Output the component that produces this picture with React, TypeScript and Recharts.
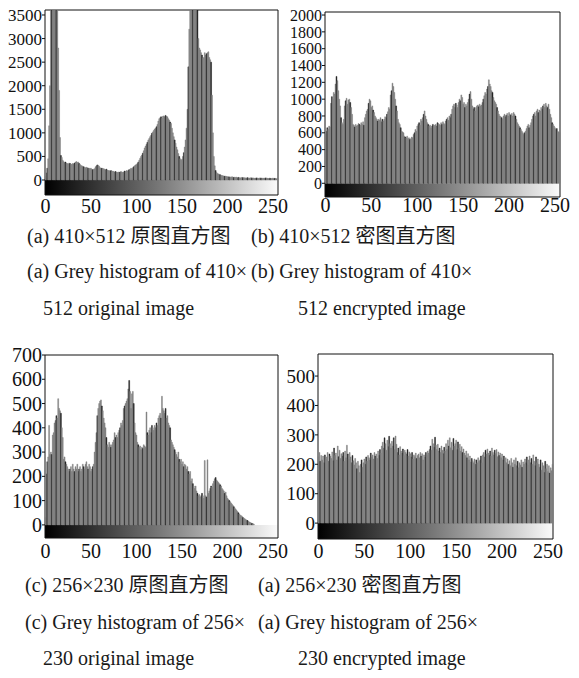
import React from "react"
import { BarChart, Bar, Cell, XAxis, YAxis, ReferenceArea } from "recharts"

// grey levels 0..255 (categories)
const LEVELS = Array.from({ length: 256 }, (_, i) => i)

// (a) 410x512 original image, counts per grey level (peaks run off the top)
const origA = [
  80, 150, 250, 450, 1150, 2000, 3800, 5000, 5000, 5000, 5000, 5000, 5000, 4600, 2800, 1900,
  900, 520, 480, 420, 390, 370, 380, 360, 350, 340, 360, 350, 340, 330, 350, 340,
  360, 380, 390, 370, 380, 350, 330, 310, 300, 290, 280, 270, 260, 270, 260, 250,
  250, 240, 250, 230, 220, 230, 240, 280, 300, 320, 310, 290, 260, 250, 250, 240,
  240, 230, 220, 230, 210, 200, 200, 190, 200, 180, 190, 180, 170, 180, 170, 160,
  170, 160, 170, 180, 170, 160, 170, 190, 180, 200, 190, 210, 220, 230, 250, 240,
  260, 280, 300, 320, 330, 350, 380, 420, 460, 500, 530, 570, 620, 680, 720, 760,
  800, 850, 880, 920, 950, 990, 1020, 1050, 1080, 1100, 1130, 1180, 1250, 1300, 1320, 1340,
  1310, 1350, 1360, 1340, 1370, 1350, 1340, 1300, 1270, 1230, 1200, 1100, 1000, 920, 850, 780,
  700, 640, 560, 500, 450, 420, 440, 500, 580, 700, 850, 1100, 1500, 2400, 3200, 4000,
  5000, 5000, 5000, 5000, 5000, 5000, 5000, 5000, 3000, 2800, 2760, 2700, 2650, 2580, 2600, 2700,
  2650, 2680, 2700, 2720, 2600, 2550, 2500, 1800, 1000, 500, 300, 200, 160, 140, 130, 120,
  110, 100, 95, 90, 85, 80, 80, 75, 70, 70, 65, 65, 60, 70, 60, 55,
  60, 55, 60, 50, 55, 50, 45, 50, 55, 50, 45, 50, 40, 45, 50, 45,
  40, 45, 50, 40, 45, 40, 35, 40, 45, 40, 35, 40, 45, 40, 35, 40,
  35, 40, 45, 40, 35, 30, 40, 35, 30, 35, 40, 30, 35, 30, 25, 40,
]

// (b) 410x512 encrypted image
const encB = [
  590, 620, 660, 640, 680, 670, 950, 1030, 1000, 1080, 1060, 1180, 1270, 1220, 1100, 1000,
  920, 780, 720, 700, 760, 920, 980, 1010, 940, 990, 1000, 960, 900, 820, 700, 690,
  670, 700, 680, 690, 710, 700, 690, 720, 700, 730, 690, 780, 820, 860, 880, 950,
  1000, 980, 900, 920, 870, 840, 800, 780, 760, 740, 760, 750, 780, 730, 760, 740,
  760, 790, 780, 820, 850, 900, 880, 1050, 1100, 1190, 1150, 1080, 1000, 920, 860, 760,
  720, 700, 660, 620, 610, 600, 560, 550, 540, 560, 530, 540, 520, 530, 550, 540,
  580, 600, 640, 620, 680, 700, 720, 690, 760, 740, 780, 820, 860, 800, 760, 720,
  700, 680, 690, 660, 680, 700, 670, 690, 700, 680, 720, 710, 700, 690, 720, 700,
  730, 710, 700, 740, 760, 780, 750, 800, 780, 820, 880, 920, 940, 900, 950, 930,
  900, 960, 1000, 980, 1050, 1020, 940, 960, 900, 940, 920, 960, 1000, 1060, 1090, 1000,
  920, 880, 900, 860, 900, 920, 930, 910, 940, 920, 930, 960, 1000, 1040, 1080, 1060,
  1120, 1150, 1230, 1180, 1150, 1100, 1080, 1020, 980, 960, 940, 900, 860, 820, 800, 790,
  780, 760, 800, 820, 790, 810, 830, 800, 840, 820, 810, 830, 800, 840, 820, 800,
  760, 720, 700, 680, 660, 640, 620, 600, 580, 600, 620, 650, 680, 700, 660, 690,
  720, 760, 800, 820, 840, 800, 860, 880, 840, 870, 860, 900, 880, 920, 940, 900,
  950, 920, 900, 940, 880, 820, 780, 720, 700, 680, 660, 640, 650, 620, 610, 600,
]

// (c) 256x230 original image
const origC = [
  30, 210, 260, 280, 410, 290, 300, 290, 370, 380, 420, 430, 450, 440, 520, 480,
  470, 460, 400, 360, 270, 280, 260, 250, 240, 230, 220, 230, 240, 220, 250, 230,
  220, 240, 230, 250, 220, 230, 240, 220, 230, 250, 240, 230, 250, 260, 240, 230,
  250, 240, 220, 230, 240, 250, 300, 340, 380, 450, 480, 500, 510, 515, 490, 470,
  440, 420, 400, 360, 330, 320, 340, 330, 320, 330, 340, 350, 380, 360, 370, 360,
  380, 390, 400, 420, 410, 430, 480, 490, 500, 510, 520, 560, 595, 550, 480, 540,
  550, 500, 420, 380, 370, 340, 330, 320, 325, 310, 320, 315, 330, 325, 320, 465,
  380, 370, 390, 400, 380, 410, 400, 390, 410, 400, 420, 410, 440, 450, 460, 440,
  530, 480, 470, 460, 480, 440, 450, 420, 410, 400, 350, 340, 330, 320, 310, 300,
  290, 280, 300, 270, 260, 270, 250, 260, 240, 250, 245, 230, 240, 220, 210, 220,
  180, 190, 170, 160, 150, 160, 140, 130, 120, 125, 115, 120, 130, 120, 110, 265,
  120, 115, 268, 130, 140, 150, 160, 155, 170, 180, 190, 195, 185, 180, 175, 170,
  165, 160, 150, 145, 140, 130, 135, 120, 110, 105, 100, 95, 90, 85, 80, 75,
  70, 65, 60, 55, 50, 45, 40, 38, 35, 30, 28, 25, 22, 20, 18, 15,
  12, 10, 8, 6, 5, 3, 0, 0, 0, 0, 0, 0, 0, 0, 0, 0,
  0, 0, 0, 0, 0, 0, 0, 0, 0, 0, 0, 0, 0, 0, 0, 0,
]

// (d) 256x230 encrypted image
const encD = [
  225, 240, 210, 230, 215, 228, 205, 232, 218, 225, 240, 210, 235, 228, 220, 242,
  212, 255, 230, 238, 215, 262, 226, 248, 220, 236, 228, 240, 210, 245, 222, 265,
  235, 218, 240, 225, 205, 230, 212, 198, 220, 205, 185, 210, 195, 172, 200, 215,
  190, 205, 218, 200, 225, 210, 230, 222, 215, 238, 225, 232, 218, 240, 228, 235,
  220, 245, 230, 250, 238, 262, 275, 255, 290, 270, 248, 282, 260, 295, 270, 255,
  278, 262, 290, 250, 296, 268, 240, 255, 232, 260, 245, 238, 252, 230, 248, 240,
  235, 250, 228, 242, 236, 225, 240, 218, 232, 226, 238, 220, 230, 235, 222, 240,
  228, 236, 215, 232, 225, 240, 230, 245, 238, 250, 262, 248, 285, 270, 258, 292,
  265, 250, 268, 245, 255, 240, 262, 248, 236, 258, 245, 270, 250, 282, 262, 290,
  256, 275, 248, 288, 262, 270, 282, 250, 276, 255, 268, 245, 260, 240, 252, 238,
  230, 245, 222, 236, 215, 228, 208, 220, 212, 205, 218, 200, 215, 205, 222, 210,
  215, 228, 205, 232, 240, 225, 248, 235, 252, 238, 230, 245, 228, 255, 240, 232,
  248, 236, 250, 226, 242, 230, 238, 222, 235, 215, 228, 210, 222, 205, 218, 200,
  212, 195, 220, 205, 190, 215, 200, 222, 195, 210, 188, 205, 198, 215, 190, 208,
  200, 218, 205, 225, 198, 215, 228, 205, 220, 200, 232, 210, 195, 225, 205, 218,
  200, 190, 215, 180, 205, 195, 172, 210, 185, 200, 175, 195, 170, 188, 178, 200,
]

const ticksA = [0, 500, 1000, 1500, 2000, 2500, 3000, 3500]
const ticksB = [0, 200, 400, 600, 800, 1000, 1200, 1400, 1600, 1800, 2000]
const ticksC = [0, 100, 200, 300, 400, 500, 600, 700]
const ticksD = [0, 100, 200, 300, 400, 500]

const captionsTop = [
  "(a) 410×512 原图直方图",
  "(b) 410×512 密图直方图",
  "(a) Grey histogram of 410×",
  "(b) Grey histogram of 410×",
  "512 original image",
  "512 encrypted image",
]
const captionsBottom = [
  "(c) 256×230 原图直方图",
  "(a) 256×230 密图直方图",
  "(c) Grey histogram of 256×",
  "(a) Grey histogram of 256×",
  "230 original image",
  "230 encrypted image",
]

const SERIF = "'Liberation Serif', 'Times New Roman', serif"
const CAPTION_FONT = "'Liberation Serif', 'Noto Sans CJK SC', serif"
const BAR_GREY = "#7e7e7e"
const LINE_DARK = "#1c1c1c"

interface PanelProps {
  id: string
  left: number
  top: number
  width: number
  height: number
  margin: { top: number; right: number; bottom: number; left: number }
  yWidth: number
  values: number[]
  yDomain: [number, number]
  yTicks: number[]
  yFont: number
  xTickSize: number
  xTickMargin: number
}

function Panel({ id, left, top, width, height, margin, yWidth, values, yDomain, yTicks, yFont, xTickSize, xTickMargin }: PanelProps) {
  const data = LEVELS.map((level, i) => ({ level, count: values[i] }))
  return (
    <div style={{ position: "absolute", left, top }}>
      <BarChart width={width} height={height} data={data} margin={margin} barCategoryGap={0} barGap={0}>
        <defs>
          <linearGradient id={"grad-" + id} x1="0" y1="0" x2="1" y2="0">
            <stop offset="0%" stopColor="#000" />
            <stop offset="50%" stopColor="#7a7a7a" />
            <stop offset="100%" stopColor="#fafafa" />
          </linearGradient>
        </defs>
        <XAxis
          dataKey="level"
          interval={49}
          tickLine={false}
          axisLine={false}
          tickSize={xTickSize}
          tickMargin={xTickMargin}
          height={22}
          tick={{ fontSize: 20, fill: "#111", fontFamily: SERIF }}
        />
        <YAxis
          domain={yDomain}
          ticks={yTicks}
          interval={0}
          allowDataOverflow
          width={yWidth}
          tickSize={3}
          tickMargin={0}
          axisLine={false}
          tickLine={{ stroke: "#111" }}
          tick={{ fontSize: yFont, fill: "#111", fontFamily: SERIF }}
        />
        <ReferenceArea y1={yDomain[0]} y2={0} fill={"url(#grad-" + id + ")"} fillOpacity={1} stroke="none" />
        <Bar dataKey="count" isAnimationActive={false}>
          {data.map((d, i) => {
            const c = i % 5 === 2 ? LINE_DARK : BAR_GREY
            return <Cell key={d.level} fill={c} stroke={c} strokeWidth={0.45} />
          })}
        </Bar>
        <ReferenceArea y1={0} y2={0} stroke="#999" fill="none" />
        <ReferenceArea y1={yDomain[0]} y2={yDomain[1]} fill="none" fillOpacity={0} stroke="#111" strokeWidth={1} />
      </BarChart>
    </div>
  )
}

function Caption({ text, left, center }: { text: string; left: number; center: number }) {
  return (
    <div
      style={{
        position: "absolute",
        left,
        top: center - 12,
        lineHeight: "24px",
        fontSize: 20,
        fontFamily: CAPTION_FONT,
        color: "#1a1a1a",
        whiteSpace: "nowrap",
      }}
    >
      {text}
    </div>
  )
}

export default function App() {
  return (
    <div style={{ position: "absolute", left: 0, top: 0, width: 579, height: 678, background: "#fff", overflow: "hidden" }}>
      <Panel
        id="a"
        left={0}
        top={0}
        width={290}
        height={230}
        margin={{ top: 10, right: 12, bottom: 13, left: 0 }}
        yWidth={45}
        values={origA}
        yDomain={[-318, 3606]}
        yTicks={ticksA}
        yFont={17}
        xTickSize={3}
        xTickMargin={1}
      />
      <Panel
        id="b"
        left={290}
        top={0}
        width={289}
        height={230}
        margin={{ top: 12, right: 19, bottom: 11, left: 0 }}
        yWidth={35}
        values={encB}
        yDomain={[-163, 2036]}
        yTicks={ticksB}
        yFont={16}
        xTickSize={1}
        xTickMargin={0}
      />
      <Panel
        id="c"
        left={0}
        top={340}
        width={290}
        height={230}
        margin={{ top: 15, right: 12, bottom: 10, left: 0 }}
        yWidth={45}
        values={origC}
        yDomain={[-54, 700]}
        yTicks={ticksC}
        yFont={20}
        xTickSize={3}
        xTickMargin={3}
      />
      <Panel
        id="d"
        left={284}
        top={340}
        width={295}
        height={230}
        margin={{ top: 14, right: 26, bottom: 9, left: 0 }}
        yWidth={34}
        values={encD}
        yDomain={[-54, 575]}
        yTicks={ticksD}
        yFont={19}
        xTickSize={3}
        xTickMargin={2}
      />
      <Caption text={captionsTop[0]} left={27} center={236} />
      <Caption text={captionsTop[1]} left={251} center={236} />
      <Caption text={captionsTop[2]} left={27} center={271} />
      <Caption text={captionsTop[3]} left={251} center={271} />
      <Caption text={captionsTop[4]} left={43} center={308} />
      <Caption text={captionsTop[5]} left={298} center={308} />
      <Caption text={captionsBottom[0]} left={25} center={585} />
      <Caption text={captionsBottom[1]} left={258} center={585} />
      <Caption text={captionsBottom[2]} left={25} center={622} />
      <Caption text={captionsBottom[3]} left={258} center={622} />
      <Caption text={captionsBottom[4]} left={43} center={658} />
      <Caption text={captionsBottom[5]} left={298} center={658} />
    </div>
  )
}
